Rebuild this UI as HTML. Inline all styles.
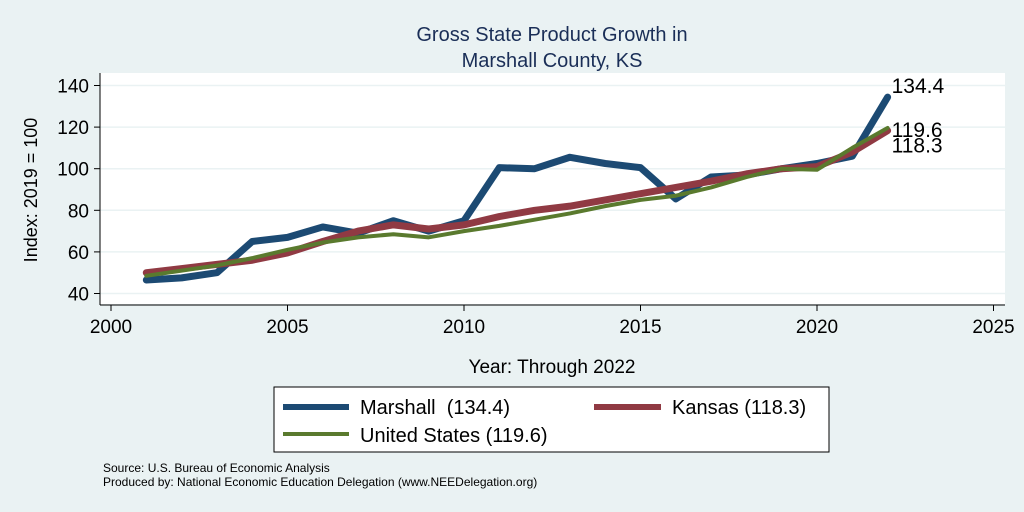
<!DOCTYPE html>
<html><head><meta charset="utf-8"><style>
body{margin:0;background:#eaf2f3;font-family:"Liberation Sans",sans-serif;}
svg{display:block}
</style></head><body>
<svg width="1024" height="512" xmlns="http://www.w3.org/2000/svg">
<rect x="0" y="0" width="1024" height="512" fill="#eaf2f3"/>
<text x="552" y="41" text-anchor="middle" font-size="20" fill="#1a2e57">Gross State Product Growth in</text>
<text x="552" y="67" text-anchor="middle" font-size="20" fill="#1a2e57">Marshall County, KS</text>
<rect x="100" y="73" width="905" height="231" fill="#fff"/>
<g id="grid"></g><g id="axes"></g><g id="lines"></g>
<text x="37" y="190" text-anchor="middle" font-size="18" transform="rotate(-90 37 190)">Index: 2019 = 100</text>
<text x="552" y="373" text-anchor="middle" font-size="19">Year: Through 2022</text>
<g>
<rect x="274" y="387" width="555" height="65" fill="#fff" stroke="#000" stroke-width="1"/>
<line x1="283" y1="407" x2="349" y2="407" stroke="#1c4a73" stroke-width="6"/>
<text x="360" y="414" font-size="20" xml:space="preserve" style="white-space:pre">Marshall  (134.4)</text>
<line x1="594" y1="407" x2="661" y2="407" stroke="#903a43" stroke-width="6"/>
<text x="672" y="414" font-size="20">Kansas (118.3)</text>
<line x1="283" y1="434" x2="349" y2="434" stroke="#5a7a2e" stroke-width="4"/>
<text x="360" y="442" font-size="20">United States (119.6)</text>
</g>
<text x="103" y="472" font-size="12">Source: U.S. Bureau of Economic Analysis</text>
<text x="103" y="486" font-size="12">Produced by: National Economic Education Delegation (www.NEEDelegation.org)</text>
</svg>
<script>
const years=[2001,2002,2003,2004,2005,2006,2007,2008,2009,2010,2011,2012,2013,2014,2015,2016,2017,2018,2019,2020,2021,2022];
const marshall=[46.5,47.5,50,65,67,72,69,75,70,75,100.5,100,105.5,102.5,100.5,85.5,96,97,100,102.5,106,134.4];
const kansas=[50,52,54,56,59.5,65,70,73,71,73,77,80,82,85,88,91,94,97.5,100,101,108,118.3];
const us=[48.5,51,53.5,57,61,64.5,67,68.5,67,70,72.5,75.5,78.5,82,85,87,91,96,100,99.5,110,119.6];
const yTicks=[40,60,80,100,120,140];
const xTicks=[2000,2005,2010,2015,2020,2025];
const NS="http://www.w3.org/2000/svg";
const xs=v=>111+(v-2000)*35.3;
const ys=v=>293.5-(v-40)*2.08;
function mk(t,a,p){const e=document.createElementNS(NS,t);for(const k in a)e.setAttribute(k,a[k]);p.appendChild(e);return e;}
const grid=document.getElementById('grid'),axes=document.getElementById('axes'),lines=document.getElementById('lines');
yTicks.forEach(v=>{
 const g=mk('line',{x1:100,x2:1005,y1:ys(v),y2:ys(v),stroke:'#eaf2f3','stroke-width':1.5},grid);
 
 
 const t=mk('line',{x1:94,x2:100,y1:ys(v),y2:ys(v),stroke:'#000'},axes);
 
 
 const l=mk('text',{x:89,y:ys(v)+7,'text-anchor':'end','font-size':19},axes);l.textContent=v;
 
 
});
mk('line',{x1:100,x2:100,y1:73,y2:305,stroke:'#000'},axes);
mk('line',{x1:100,x2:1005,y1:305,y2:305,stroke:'#000'},axes);
xTicks.forEach(v=>{
 const t=mk('line',{x1:xs(v),x2:xs(v),y1:305,y2:311,stroke:'#000'},axes);
 
 
 const l=mk('text',{x:xs(v),y:333,'text-anchor':'middle','font-size':19},axes);l.textContent=v;
 
 
});
function series(vals,color,w,name){
 const p=mk('polyline',{points:vals.map((v,i)=>xs(years[i])+','+ys(v)).join(' '),fill:'none',stroke:color,'stroke-width':w,'stroke-linejoin':'round','stroke-linecap':'round'},lines);
 
 
}
series(marshall,'#1c4a73',7,'line-marshall');
series(kansas,'#903a43',7,'line-kansas');
series(us,'#5a7a2e',4,'line-us');
function lab(v,dy,name){const n=years.length-1;
 const t=mk('text',{x:xs(years[n])+4,y:ys(v)+dy,'font-size':21},lines);t.textContent=v.toFixed(1);
 
 }
lab(marshall[marshall.length-1],-4,'end-label-marshall');
lab(us[us.length-1],9,'end-label-us');
lab(kansas[kansas.length-1],22,'end-label-kansas');
</script>
</body></html>
